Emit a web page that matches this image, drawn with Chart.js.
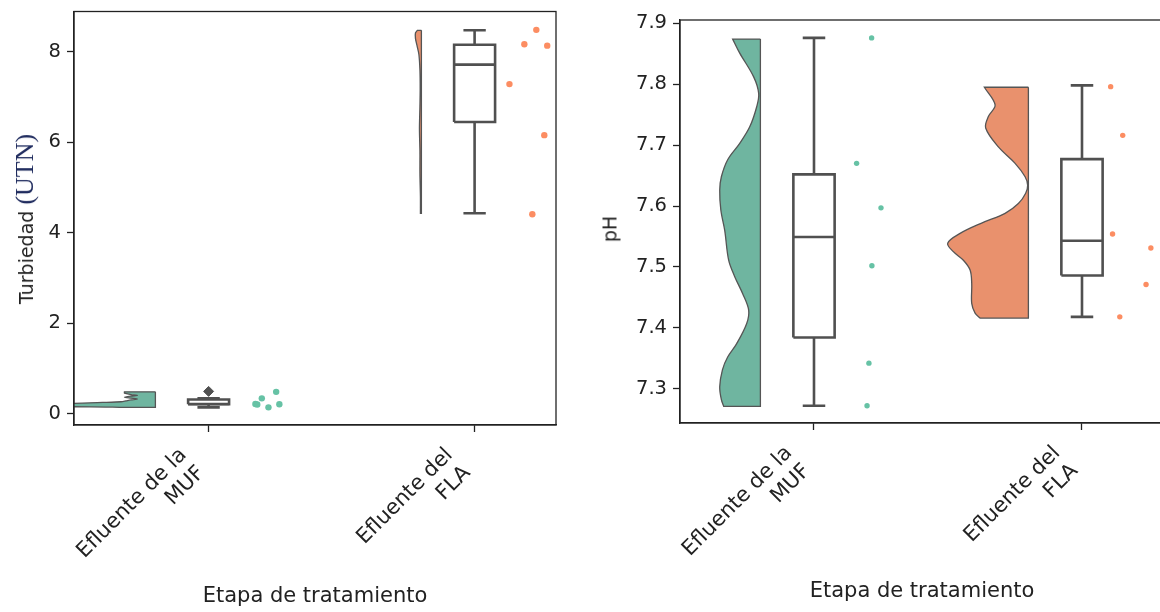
<!DOCTYPE html>
<html><head><meta charset="utf-8">
<script src="https://cdn.jsdelivr.net/npm/chart.js@4.4.1/dist/chart.umd.min.js"></script>
<style>
html,body{margin:0;padding:0;background:#fff;overflow:hidden;width:1160px;height:612px;}
#wrap{position:relative;width:1160px;height:612px;overflow:hidden;background:#fff;}
canvas{position:absolute;top:0;}
#c1{left:0;width:562px;height:612px;}
#c2{left:600px;width:600px;height:612px;}
.ytitle{position:absolute;white-space:nowrap;transform:translate(-50%,-50%) rotate(-90deg);font-family:"DejaVu Sans";color:#222;line-height:1;}
</style></head><body>
<div id="wrap">
<canvas id="c1" width="562" height="612"></canvas>
<canvas id="c2" width="600" height="612"></canvas>
<div class="ytitle" style="left:25px;top:219px;font-size:19px;">Turbiedad <span style="font-family:'Liberation Serif';font-size:26px;color:#1f2b5e">(UTN)</span></div>
<div class="ytitle" style="left:610px;top:229px;font-size:19px;">pH</div>
</div>
<script>
// ---------- data ----------
const categories = [['Efluente de la','MUF'],['Efluente del','FLA']];
const xTitle = 'Etapa de tratamiento';
const turbTicks = [0,2,4,6,8];
const turbTickLabels = ['0','2','4','6','8'];
const phTicks = [7.3,7.4,7.5,7.6,7.7,7.8,7.9];
const phTickLabels = ['7.3','7.4','7.5','7.6','7.7','7.8','7.9'];

// rain (points) and their horizontal jitter
const turbMufValues = [0.21,0.336,0.137,0.48,0.204,0.20];
const turbMufJitter = [0.176,0.200,0.225,0.254,0.266,0.183];
const turbFlaValues = [8.49,8.17,8.14,7.29,6.16,4.41];
const turbFlaJitter = [0.232,0.187,0.273,0.131,0.262,0.217];
const phMufValues = [7.876,7.670,7.597,7.502,7.342,7.272];
const phMufJitter = [0.215,0.159,0.250,0.216,0.205,0.198];
const phFlaValues = [7.796,7.716,7.554,7.531,7.471,7.418];
const phFlaJitter = [0.107,0.152,0.114,0.257,0.239,0.141];

// box stats [min, q1, median, q3, max]
const turbMufBox = [0.137,0.204,0.21,0.31,0.336];
const turbMufOutliers = [0.49];
const turbFlaBox = [4.43,6.45,7.72,8.16,8.48];
const phMufBox = [7.272,7.384,7.549,7.652,7.876];
const phFlaBox = [7.418,7.486,7.543,7.677,7.798];

// half-violin density profiles (value, relative density)
const turbMufKdeY = [0.48,0.45,0.42,0.40,0.385,0.36,0.34,0.32,0.30,0.28,0.26,0.245,0.226,0.21,0.19,0.17,0.15,0.142,0.137];
const turbMufKdeD = [0.38,0.38,0.30,0.22,0.30,0.38,0.30,0.22,0.30,0.36,0.42,0.65,1.0,1.9,3.1,1.9,1.0,0.61,0.44];
const turbFlaKdeY = [8.48,8.42,8.30,8.15,7.95,7.60,7.20,6.80,6.30,5.80,5.30,4.80,4.43];
const turbFlaKdeD = [0.049,0.073,0.073,0.055,0.031,0.018,0.015,0.018,0.024,0.018,0.018,0.012,0.012];
const phMufKdeY = [7.874,7.851,7.812,7.785,7.763,7.730,7.703,7.676,7.648,7.626,7.593,7.560,7.511,7.484,7.456,7.429,7.407,7.374,7.352,7.331,7.303,7.282,7.271];
const phMufKdeD = [0.338,0.252,0.082,0.021,0.045,0.130,0.252,0.399,0.476,0.496,0.482,0.435,0.387,0.313,0.216,0.143,0.167,0.289,0.399,0.463,0.496,0.476,0.448];
const phFlaKdeY = [7.795,7.766,7.747,7.728,7.697,7.670,7.648,7.634,7.621,7.604,7.588,7.572,7.555,7.539,7.525,7.511,7.495,7.473,7.440,7.424,7.416];
const phFlaKdeD = [0.537,0.406,0.488,0.521,0.366,0.162,0.040,0.009,0.033,0.122,0.284,0.570,0.833,0.984,0.915,0.793,0.711,0.691,0.691,0.650,0.589];

// ---------- styles ----------
const FONT = 'DejaVu Sans';
const INK = '#222';
const BOXC = '#505050';
const violinFill = ['#6fb5a0','#e9916d'];
const rainColor = ['#66c2a5','#fc8d62'];
const VIOLIN_OFF = -0.2, VIOLIN_SCALE = 0.306, BOX_HW = 0.077, CAP_HW = 0.042;

function violinPts(cat, ys, ds){
  const fx = cat + VIOLIN_OFF, top = ys[0], bot = ys[ys.length-1];
  const pts = [{x:fx,y:top},{x:fx,y:top}];
  ys.forEach((v,i)=>{
    const p = {x: fx - ds[i]*VIOLIN_SCALE, y: v};
    pts.push(p);
    if(i===0 || i===ys.length-1) pts.push({x:p.x,y:p.y});
  });
  pts.push({x:fx,y:bot},{x:fx,y:bot},{x:fx,y:top},{x:fx,y:top});
  return pts;
}
function violinDs(cat, ys, ds, tension){
  return {type:'line', data: violinPts(cat, ys, ds), fill:'shape', backgroundColor: violinFill[cat],
    borderColor:'#555', borderWidth:1.3, tension: tension, pointRadius:0, order:4};
}
function boxDs(cat, b){
  const [mn,q1,md,q3,mx] = b;
  const L = cat-BOX_HW, R = cat+BOX_HW;
  return [
    {type:'line', data:[{x:L,y:q1},{x:R,y:q1},{x:R,y:q3},{x:L,y:q3},{x:L,y:q1}], fill:'shape',
      backgroundColor:'#fff', borderColor:BOXC, borderWidth:2.6, tension:0, pointRadius:0, borderJoinStyle:'miter', order:3},
    {type:'line', data:[{x:L,y:md},{x:R,y:md},{x:cat,y:null},
      {x:cat,y:q1},{x:cat,y:mn},{x:cat,y:null},
      {x:cat-CAP_HW,y:mn},{x:cat+CAP_HW,y:mn},{x:cat,y:null},
      {x:cat,y:q3},{x:cat,y:mx},{x:cat,y:null},
      {x:cat-CAP_HW,y:mx},{x:cat+CAP_HW,y:mx}],
      fill:false, borderColor:BOXC, borderWidth:2.6, tension:0, pointRadius:0, spanGaps:false, borderCapStyle:'butt', order:2}
  ];
}
function rainDs(cat, vals, jit, r){
  return {type:'line', showLine:false, data: vals.map((v,i)=>({x:cat+jit[i], y:v})),
    pointRadius:r, pointBackgroundColor:rainColor[cat], pointBorderWidth:0, order:0};
}
const framePlugin = {id:'frame', afterDraw(chart){
  const {ctx, chartArea:a} = chart;
  ctx.save(); ctx.strokeStyle = INK; ctx.lineWidth = 1.3;
  ctx.strokeRect(a.left, a.top, a.right-a.left, a.bottom-a.top); ctx.restore();
}};

function makeScales(o){
  return {
    x:{type:'linear', min:o.xmin, max:o.xmax,
      afterBuildTicks:s=>{ s.ticks = [0,1].map(v=>({value:v})); },
      afterFit:s=>{ s.height = o.xh; s.paddingLeft = 0; s.paddingRight = 0; },
      grid:{drawOnChartArea:false, drawTicks:true, tickLength:7, tickWidth:1.3, tickColor:INK},
      border:{display:true, color:INK, width:1.3},
      ticks:{autoSkip:false, minRotation:45, maxRotation:45, padding:11, labelOffset:-25,
        font:{family:FONT, size:21}, color:INK, callback:(v,i)=>categories[i]},
      title:{display:true, text:xTitle, font:{family:FONT, size:21}, color:INK, padding:{top:0,bottom:o.tpad}}
    },
    y:{type:'linear', min:o.ymin, max:o.ymax,
      afterBuildTicks:s=>{ s.ticks = o.ticks.map(v=>({value:v})); },
      afterFit:s=>{ s.width = o.yw; s.paddingTop = 0; s.paddingBottom = 0; },
      grid:{drawOnChartArea:false, drawTicks:true, tickLength:7, tickWidth:1.3, tickColor:INK},
      border:{display:true, color:INK, width:1.3},
      ticks:{padding:6, font:{family:FONT, size:19.5}, color:INK, callback:(v,i)=>o.labels[i]}
    }
  };
}
const common = {responsive:false, animation:false, events:[], devicePixelRatio:1,
  plugins:{legend:{display:false}, tooltip:{enabled:false}}};

new Chart(document.getElementById('c1'), {
  type:'line',
  data:{datasets:[
    violinDs(0, turbMufKdeY, turbMufKdeD, 0.25),
    violinDs(1, turbFlaKdeY, turbFlaKdeD, 0.3),
    ...boxDs(0, turbMufBox), ...boxDs(1, turbFlaBox),
    {type:'line', showLine:false, data: turbMufOutliers.map(v=>({x:0,y:v})), pointStyle:'rectRot',
      pointRadius:5, pointBackgroundColor:BOXC, pointBorderColor:BOXC, pointBorderWidth:1, order:1},
    rainDs(0, turbMufValues, turbMufJitter, 3.2),
    rainDs(1, turbFlaValues, turbFlaJitter, 3.2)
  ]},
  options:{...common, layout:{padding:{top:11.5, right:4.3, left:0, bottom:0}},
    scales: makeScales({xmin:-0.506, xmax:1.306, ymin:-0.254, ymax:8.896, ticks:turbTicks, labels:turbTickLabels, xh:187, yw:74, tpad:2.4})},
  plugins:[framePlugin]
});

new Chart(document.getElementById('c2'), {
  type:'line',
  data:{datasets:[
    violinDs(0, phMufKdeY, phMufKdeD, 0.35),
    violinDs(1, phFlaKdeY, phFlaKdeD, 0.35),
    ...boxDs(0, phMufBox), ...boxDs(1, phFlaBox),
    rainDs(0, phMufValues, phMufJitter, 2.7),
    rainDs(1, phFlaValues, phFlaJitter, 2.7)
  ]},
  options:{...common, layout:{padding:{top:20, right:36, left:0, bottom:0}},
    scales: makeScales({xmin:-0.5, xmax:1.306, ymin:7.2437, ymax:7.9054, ticks:phTicks, labels:phTickLabels, xh:189, yw:80, tpad:7.4})},
  plugins:[framePlugin]
});
</script>
</body></html>
